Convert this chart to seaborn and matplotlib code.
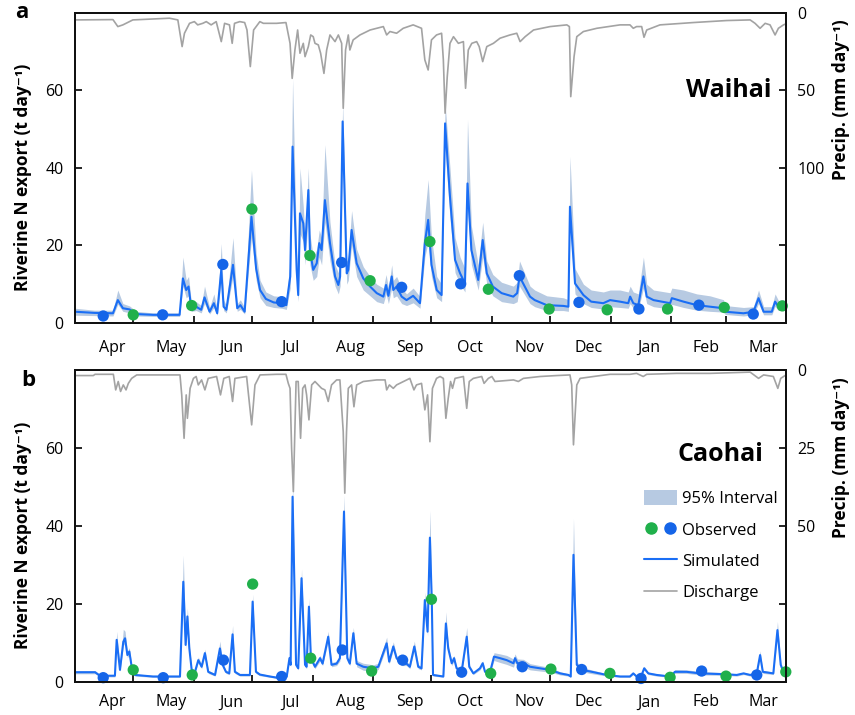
import matplotlib.pyplot as plt
import numpy as np
import seaborn as sns
from matplotlib.legend_handler import HandlerTuple
from matplotlib.lines import Line2D
from matplotlib.patches import Patch

# ---------------- panel a : Waihai ----------------
days_a = [0, 10, 19.5, 22, 24.6, 28, 31.5, 40, 53.7, 55.4, 57.1, 58.3, 59.7, 62.2, 64.8, 66.5,
          69.1, 71.3, 73, 75.1, 76.3, 77.7, 81.1, 83.3, 84.9, 87.1, 90.6, 93, 95, 98, 102, 106.1,
          108.5, 110.5, 111.7, 113.8, 114.6, 115.5, 117.2, 118.1, 119.8, 120.6, 122.3, 124.1, 125.4,
          126.6, 128.3, 130.9, 133.5, 135.2, 136.1, 137.4, 139.5, 140.3, 142, 144.6, 148, 151.5,
          154.9, 158.3, 159.7, 160.9, 162.6, 163.4, 165.1, 167.7, 170.2, 173.6, 177.1, 179.6, 181.3,
          183, 185.7, 188.2, 190, 192.5, 195.1, 197.7, 200.2, 201.5, 203.5, 207, 209.3, 211.4, 214.5,
          219, 225, 227, 228.2, 233.6, 236, 242.2, 250.7, 253.3, 254.1, 256.7, 261, 265, 271.2,
          274.7, 279.8, 284, 285, 286.6, 289.2, 291.8, 293.5, 297, 305.5, 306.4, 312.4, 319.2, 326,
          332.9, 333.8, 343.2, 348.3, 350.9, 353.5, 357.7, 359.4, 361.1, 363, 365]
sim_a = [2.9, 2.6, 2.5, 5.9, 3.8, 3.5, 2.3, 2.1, 2.1, 11.5, 8.5, 9.4, 3.8, 4.2, 3.4, 6.6,
         2.9, 5.1, 2.5, 13.7, 4.2, 3.4, 15.0, 3.8, 4.6, 2.9, 27.4, 14, 8.5, 6.2, 5.3, 5.1,
         4.6, 12, 45.5, 13.7, 7.2, 28.3, 25.7, 18.8, 34.3, 18.8, 13.7, 15.4, 20.6,
         18.8, 31.7, 20.6, 12.0, 9.8, 12.0, 52, 12.8, 13.7, 24, 15.4, 11.5, 9.4,
         7.7, 6.8, 9.8, 7.0, 12.0, 8.5, 9.4, 6.8, 5.9, 7.0, 5.1, 20.6, 26.6,
         15, 8.5, 7.2, 51.5, 32.6, 16.3, 12.8, 10.2, 36, 18.8, 11.1, 21.4, 12.8, 9.4,
         7.7, 6.8, 7.7, 12.0, 6.8, 5.9, 4.6, 4.4, 4.2, 30, 10.2, 7.2, 5.5, 5.1,
         5.9, 5.5, 5.1, 6.8, 5.1, 4.6, 12.0, 6.8, 5.9, 5.1, 6.4, 5.5, 4.6, 4.2,
         3.8, 2.9, 2.5, 2.9, 6.4, 2.9, 2.9, 5.5, 4.2, 4.6, 4.4]
lo_a = [2.0, 1.9, 1.8, 4.8, 3.0, 2.6, 1.8, 1.7, 1.7, 9.5, 6.5, 7.0, 3.0, 3.2, 2.6, 5.0,
        2.3, 4.0, 2.0, 11.0, 3.2, 2.6, 12.0, 3.0, 3.5, 2.3, 22, 11, 6.5, 4.5, 4.0, 3.8,
        3.5, 9, 38, 10, 5.5, 23, 21, 15, 28, 15, 11, 12, 17,
        15, 26, 16, 9.5, 7.5, 9.5, 45, 10, 11, 20, 12, 8.5, 7,
        5.5, 5, 7.5, 5, 9, 6.5, 7, 5, 4.5, 5.2, 3.8, 17, 21,
        12, 6.5, 5.5, 45, 27, 13, 10, 8, 30, 15, 8.5, 17, 10, 7,
        5.5, 5, 5.5, 9.5, 5, 4.2, 3.2, 3.2, 3, 25, 7.5, 5, 4, 3.6,
        4.2, 4, 3.8, 5, 3.8, 3.4, 9, 5, 4.2, 3.6, 4.8, 4, 3.3, 3.0,
        2.8, 2.2, 1.8, 2.1, 5, 2.1, 2.1, 4.3, 3.2, 3.5, 3.4]
hi_a = [3.8, 3.3, 3.3, 8.5, 5.0, 4.4, 3.0, 2.6, 2.6, 17, 11, 12, 5.5, 5.5, 4.5, 9.5,
        4.0, 7.5, 3.5, 20.5, 6.0, 4.5, 22, 5.0, 6.0, 4.0, 39.5, 18, 11, 8, 7, 6.8,
        6.0, 16, 63, 18, 10, 40, 30, 22, 40, 23, 17, 19, 24,
        22, 46, 26, 15, 13, 15, 57, 16, 17, 29, 19, 14.5, 12,
        10, 9, 12.5, 9, 15, 11, 12, 9, 7.5, 9, 6.8, 28, 37,
        22, 12, 10, 56.5, 40, 22, 17, 14, 52.5, 25, 15, 26, 16, 12.5,
        10.5, 9.5, 10.5, 16, 9.5, 8.5, 7, 6.5, 6, 43, 14, 10, 8.5, 8,
        8.5, 8.5, 8, 9.5, 8, 7.5, 17, 10, 8.5, 7.8, 9, 8.5, 7.5, 7,
        6, 4.5, 4, 4.2, 8.5, 4.2, 4.2, 7.5, 5.8, 6, 5.8]

rain_days_a = [0, 19.5, 22, 24.6, 29.7, 48.5, 52.8, 55, 56.2, 58.8, 61.3, 63, 65.6, 67.4, 69.9,
               72.5, 75.1, 76.8, 79.3, 80.7, 81.9, 84.6, 87.1, 88.3, 90, 91.7, 94.9, 96.7, 103.5,
               108.3, 110.4, 111.5, 112.9, 114.3, 115.5, 117.2, 118.1, 119.8, 121, 122.3, 123.2,
               124.9, 126.1, 127.8, 129.2, 130.9, 133.5, 135.2, 136.9, 137.7, 138.9, 140.3, 141.1,
               142.8, 146.3, 151.5, 158.3, 160, 161.7, 165.1, 168.5, 173.6, 177.9, 179.6, 181.3,
               183, 185.6, 188.2, 189.1, 190, 191.1, 192.5, 194.3, 196.8, 199.4, 200.5, 201.9,
               203.7, 206.2, 207.5, 209.3, 211.4, 214.8, 218.2, 223.3, 226.8, 228.5, 231.1, 235.4,
               243.9, 252.5, 253.8, 254.5, 256.2, 257.6, 261, 267.9, 279.8, 284.9, 286.6, 288.3,
               290.9, 292.1, 293.5, 300.3, 317.4, 334.5, 346.6, 349.1, 351.7, 354.3, 356.8, 359.4,
               361.1, 363.7, 365]
rain_a = [4.5, 4.3, 8.8, 7.7, 4.5, 3.4, 4.5, 21.7, 13.1, 6.7, 5.6, 7.7, 6.7, 5.6, 7.7,
          5.6, 18.5, 6.7, 7.7, 19.6, 6.7, 5.6, 6.2, 11, 34.6, 11, 5.6, 6.7, 6.7,
          6.2, 19.6, 42.2, 23.9, 11, 26, 19.6, 28.2, 21.7, 14.2, 15.3, 19.6,
          20.6, 26, 39, 23.9, 14.2, 18.5, 14.2, 19.6, 61.5, 23.9, 14.2, 23.9,
          17.4, 14.2, 11, 8.8, 14.2, 12.0, 13.1, 9.9, 7.7, 9.9, 30.3, 36.8,
          17.4, 14.2, 13.1, 30.3, 64.7, 41.1, 19.6, 15.3, 19.6, 18.5, 48.6, 23.9,
          19.6, 18.5, 21.7, 31.4, 21.7, 19.6, 16.3, 14.2, 13.1, 18.5, 15.3, 11,
          8.8, 7.7, 8.8, 54, 28.2, 15.3, 12, 9.9, 7.7, 7.7, 9.9, 8.8,
          8.8, 15.7, 11, 7.7, 6.2, 4.9, 4.5, 6.7, 9.9, 6.7, 7.7, 14.2,
          9.9, 7.7, 7]

obs_days_a = [14.5, 29.9, 45, 59.9, 75.9, 90.8, 106.1, 120.6, 136.9, 151.5, 167.7, 182.2,
              198, 212.2, 228.1, 243.4, 258.7, 273.2, 289.5, 304.2, 320.3, 333.3, 348.2, 363.1]
obs_a = [1.8, 2.1, 2.1, 4.5, 15.1, 29.4, 5.5, 17.4, 15.6, 10.9, 9.2, 21,
         10.1, 8.7, 12.2, 3.6, 5.3, 3.4, 3.6, 3.6, 4.6, 4.0, 2.3, 4.4]

# ---------------- panel b : Caohai ----------------
days_b = [0, 10.3, 12.8, 20.5, 21.4, 23.1, 24.8, 25.7, 26.9, 27.9, 29.1, 30.8, 40, 53.9, 55.6,
          56.8, 57.7, 58.7, 59.9, 61.6, 63.3, 65, 66.7, 68.4, 71.9, 74.4, 75.8, 77.5, 79.2, 80.9,
          82.1, 84.7, 89.8, 91.2, 92.9, 94.9, 100.1, 106.1, 108.7, 110.1, 110.7, 111.7, 113.5,
          114.6, 116.3, 118.1, 118.9, 120.1, 121.1, 123.2, 125.8, 127.1, 130, 131.7, 134.3, 136,
          138.1, 139.8, 141.1, 142.9, 144.6, 148, 153.1, 155.7, 160, 161.3, 163.4, 165.1, 167.7,
          170.2, 171.9, 174.2, 176.2, 177.9, 179.6, 181, 182.2, 183.2, 183.8, 189.1, 190.4, 191.6,
          193.4, 194.6, 195.9, 198.5, 201.1, 202.4, 204.5, 207.9, 209.3, 210.5, 213.1, 215.1,
          218.2, 221.6, 225.1, 225.9, 227.1, 230.2, 233.6, 238.8, 243.9, 249.1, 253.3, 254.5,
          255.9, 257.6, 260.1, 264.4, 273, 279.8, 284.9, 286.6, 288.3, 290.9, 292.2, 294.3, 298.6,
          305.5, 308, 314, 320.8, 332.9, 339.7, 343.2, 346.6, 350, 351.7, 353.1, 358.5, 360.6,
          362.3, 363.6, 365]
sim_b = [2.5, 2.5, 1.6, 1.6, 10.8, 3.1, 10.3, 11.2, 6.9, 7.8, 3.9, 1.8, 1.4, 1.4, 25.7,
         9.5, 16.8, 8.6, 3.1, 2.6, 5.6, 3.9, 7.4, 2.6, 1.8, 8.6, 4.4, 2.6, 2.2, 12.2,
         2.6, 1.8, 1.8, 20.6, 2.6, 1.9, 1.4, 0.9, 1.4, 6.1, 4.4, 47.5, 4.4,
         3.5, 26.6, 4.4, 3.9, 19.3, 6.1, 3.9, 6.1, 4.7, 11.6, 4.4, 4.7, 6.1,
         43.7, 6.1, 4.7, 12.5, 4.7, 3.9, 3.5, 3.9, 9.9, 5.2, 9.1, 6.1, 4.7,
         4.7, 3.9, 9.1, 3.9, 3.5, 21, 12.9, 37, 20, 1.8, 1.4, 15, 8.6,
         4.8, 6.1, 3.5, 2.7, 11.6, 3.9, 2.2, 3.5, 4.8, 2.6, 2.6, 6.5,
         6.1, 5.6, 4.8, 6.1, 4.8, 4.8, 3.9, 3.5, 3.1, 2.2, 1.8, 1.4,
         32.6, 4.4, 3.1, 2.7, 1.8, 1.4, 1.4, 2.2, 1.4, 1.8, 3.5, 2.2, 1.8,
         1.4, 2.6, 2.6, 2.2, 2.0, 1.8, 2.2, 1.8, 2.2, 6.9, 2.6, 2.2, 13.3,
         4.4, 2.6, 2.2]
lo_b = [2.1, 2.1, 1.3, 1.3, 9.8, 2.7, 9.3, 10, 6.2, 7, 3.4, 1.5, 1.2, 1.2, 24,
        8.5, 15, 7.6, 2.7, 2.2, 5, 3.4, 6.6, 2.2, 1.5, 7.6, 3.9, 2.2, 1.9, 11,
        2.2, 1.5, 1.5, 19, 2.2, 1.6, 1.2, 0.7, 1.2, 5.4, 3.9, 45, 3.9,
        3.1, 25, 3.9, 3.4, 18, 5.4, 3.4, 5.4, 4.2, 10.5, 3.9, 4.2, 5.4,
        41.5, 5.4, 4.2, 11.3, 3.9, 3.0, 2.7, 3.2, 9, 4.6, 8.2, 5.4, 4.2,
        4.2, 3.4, 8.2, 3.4, 3.1, 19.5, 11.8, 35, 18.5, 1.5, 1.2, 13.8, 7.7,
        4.2, 5.4, 3.1, 2.3, 10.5, 3.4, 1.9, 3.1, 4.2, 2.2, 2.2, 5.5,
        5.0, 4.5, 3.8, 5.0, 3.8, 3.9, 3.1, 2.8, 2.5, 1.8, 1.5, 1.2,
        30.5, 3.8, 2.6, 2.2, 1.5, 1.2, 1.2, 1.9, 1.2, 1.5, 3.1, 1.9, 1.5,
        1.2, 2.2, 2.2, 1.8, 1.7, 1.5, 1.9, 1.5, 1.9, 6.2, 2.2, 1.9, 12,
        3.9, 2.2, 1.9]
hi_b = [2.9, 2.9, 1.9, 1.9, 13, 3.6, 13.5, 13, 7.8, 8.8, 4.5, 2.1, 1.7, 1.7, 32.5,
        11, 19, 9.6, 3.6, 3.0, 6.4, 4.5, 8.4, 3.0, 2.1, 10.5, 5, 3.0, 2.6, 14.5,
        3, 2.1, 2.1, 22.5, 3, 2.2, 1.7, 1.2, 1.7, 6.8, 5, 52, 5,
        4, 29, 5, 4.5, 21.5, 6.8, 4.5, 6.8, 5.3, 13, 5, 5.3, 6.8,
        48, 6.8, 5.3, 14, 5.5, 4.8, 4.4, 4.8, 11.5, 5.9, 10.3, 6.8, 5.3,
        5.3, 4.5, 10.5, 4.5, 4, 23, 14, 44, 22, 2.1, 1.7, 18, 9.6,
        5.4, 6.8, 4, 3.1, 14, 4.5, 2.6, 4, 5.4, 3, 3, 7.5,
        7.2, 6.8, 5.9, 7.2, 5.9, 5.8, 4.7, 4.2, 3.7, 2.6, 2.1, 1.7,
        42, 5.2, 3.7, 3.2, 2.1, 1.7, 1.7, 2.5, 1.7, 2.1, 4, 2.5, 2.1,
        1.7, 3.2, 3.1, 2.7, 2.4, 2.1, 2.5, 2.1, 2.5, 8, 3, 2.5, 15.5,
        5, 3, 2.5]

rain_days_b = [0, 9.4, 10.3, 19.7, 20.9, 22.2, 23.4, 24.8, 26.2, 27.4, 29.1, 31.7, 53.9, 54.8,
               56, 57.1, 57.7, 59.1, 60.8, 62.2, 63.3, 65, 66.7, 68.4, 72.7, 74.7, 76.4, 79.2,
               80.9, 82.1, 88.1, 90.7, 92.4, 95, 103.5, 108.3, 109.5, 110.4, 111.2, 112.1, 113.5,
               114.6, 115.8, 116.9, 118.1, 118.9, 120.1, 121.5, 123.2, 124.9, 126.6, 128.3, 130,
               131.7, 134.3, 136, 137.7, 138.5, 139.4, 140.3, 142, 143.2, 144.6, 148, 154.9,
               159.2, 160, 161.4, 163.4, 165.1, 171.9, 174, 175.3, 177.9, 179.6, 181, 182.2,
               183.5, 185.6, 187.4, 189.1, 190.4, 191.6, 192.8, 193.8, 195.1, 199.4, 201.1, 202.4,
               204.5, 208.8, 210, 212.2, 214, 215.6, 225.1, 227.6, 230.2, 238.8, 247.3, 254.1,
               255, 255.9, 257.6, 259.3, 266.2, 274.7, 284.9, 288.3, 291.7, 293.5, 308.9, 326,
               346.6, 350.9, 353.5, 358.5, 360.8, 362.3, 365]
rain_b = [1.8, 1.8, 1.4, 1.4, 6.4, 3.7, 6.9, 4.8, 6.4, 4.3, 2.7, 1.6, 1.6, 8,
          21.9, 8, 15.5, 5.9, 2.7, 2.1, 4.8, 3.2, 6.4, 2.7, 2.1, 8, 2.7, 2.1,
          10.1, 2.7, 2.1, 17.6, 4.8, 1.6, 1.4, 1.4, 4.3, 5.9, 25.1, 39, 3.7,
          3.7, 21.9, 5.9, 4.8, 8, 16, 4.8, 3.7, 4.8, 5.9, 6.4, 10.1,
          4.8, 3.2, 3.2, 19.8, 39.5, 19.8, 5.9, 4.8, 11.8, 4.8, 3.7, 3.2,
          3.2, 6.4, 4.8, 5.9, 4.8, 2.7, 6.4, 4.8, 4.3, 12.8, 8, 23,
          5.9, 2.7, 2.1, 2.7, 15.5, 9.1, 3.7, 5.9, 2.7, 2.1, 12.3, 3.7,
          2.7, 2.1, 4.3, 2.7, 2.1, 3.7, 3.2, 3.7, 2.7, 2.1, 1.8, 1.6,
          4.8, 24, 4.8, 2.7, 2.1, 1.4, 1.4, 1.1, 2.1, 1.4, 1.1, 1.1,
          0.7, 2.7, 1.6, 2.1, 5.9, 2.7, 1.6]

obs_days_b = [14.5, 29.9, 45.3, 60.2, 76.2, 91.2, 106.1, 121, 137.2, 152.3, 168.2, 183,
              198.5, 213.4, 229.6, 244.3, 260.1, 274.6, 290.6, 305.5, 321.7, 334.2, 350, 364.9]
obs_b = [1.1, 3.1, 1.1, 1.8, 5.6, 25.1, 1.4, 6.1, 8.2, 2.8, 5.6, 21.2,
         2.5, 2.2, 3.9, 3.3, 3.2, 2.2, 0.9, 1.2, 2.8, 1.5, 1.8, 2.6]

# observed samples alternate blue / green through the year
obs_kind = ['b', 'g'] * 12

months = ['Apr', 'May', 'Jun', 'Jul', 'Aug', 'Sep', 'Oct', 'Nov', 'Dec', 'Jan', 'Feb', 'Mar']
month_len = [30, 31, 30, 31, 31, 30, 31, 30, 31, 31, 28, 31]

BLUE = '#1a6ef5'
DOT_BLUE = '#1565e8'
GREEN = '#20b04b'
BAND = '#b7cae2'
GREY = '#a3a3a3'

sns.set_style('ticks')
plt.rcParams['font.family'] = ['Open Sans', 'DejaVu Sans']
plt.rcParams['axes.linewidth'] = 1.4
for key in ['text.color', 'axes.labelcolor', 'xtick.color', 'ytick.color']:
    plt.rcParams[key] = 'black'

fig = plt.figure(figsize=(8.55, 7.15), dpi=100)
ax_a = fig.add_axes([0.0877, 0.5483, 0.8316, 0.4336])
ax_b = fig.add_axes([0.0877, 0.0462, 0.8316, 0.4364])

bounds = np.cumsum(month_len)
label_pos = bounds - np.array(month_len) / 2 + 4


def draw_panel(ax, days, sim, lo, hi, rain_days, rain, obs_days, obs, rain_max, rain_ticks, rain_labels,
               month_pad):
    ax.fill_between(days, lo, hi, color=BAND, lw=0, zorder=1)
    sns.lineplot(x=days, y=sim, ax=ax, color=BLUE, lw=1.5, estimator=None, sort=False, zorder=2)
    sns.scatterplot(x=obs_days, y=obs, hue=obs_kind, palette={'b': DOT_BLUE, 'g': GREEN},
                    s=66, edgecolor='none', legend=False, ax=ax, zorder=4, clip_on=False)
    ax.set_xlim(0, 365)
    ax.set_ylim(0, 80)
    ax.set_yticks([0, 20, 40, 60])
    ax.set_xticks(bounds[:-1])
    ax.set_xticklabels([])
    ax.set_xticks(label_pos, minor=True)
    ax.set_xticklabels(months, minor=True, fontsize=11.5)
    ax.tick_params(axis='x', which='minor', length=0, pad=month_pad)
    ax.tick_params(axis='x', which='major', direction='in', length=5, width=1.2)
    ax.tick_params(axis='y', direction='in', length=5, width=1.2, labelsize=11.5, pad=8)
    ax.set_ylabel('Riverine N export (t day⁻¹)', fontsize=12.5, fontweight='bold')
    ax.yaxis.set_label_coords(-0.06, 0.47)

    ax2 = ax.twinx()
    sns.lineplot(x=rain_days, y=rain, ax=ax2, color=GREY, lw=1.2, estimator=None, sort=False)
    ax2.set_ylim(rain_max, 0)
    ax2.set_xlim(0, 365)
    ax2.set_yticks(rain_ticks)
    ax2.set_yticklabels(rain_labels)
    ax2.tick_params(axis='y', direction='in', length=5, width=1.2, labelsize=11.5, pad=8)
    ax2.set_ylabel('Precip. (mm day⁻¹)', fontsize=12.5, fontweight='bold')
    ax2.yaxis.set_label_coords(1.065, 0.72)
    for side in ['left', 'right', 'top', 'bottom']:
        ax.spines[side].set_color('#111111')
        ax2.spines[side].set_color('#111111')
    return ax2


draw_panel(ax_a, days_a, sim_a, lo_a, hi_a, rain_days_a, rain_a, obs_days_a, obs_a,
           200, [0, 50, 100, 150], ['0', '50', '100', ''], 12)
draw_panel(ax_b, days_b, sim_b, lo_b, hi_b, rain_days_b, rain_b, obs_days_b, obs_b,
           100, [0, 25, 50, 75], ['0', '25', '50', ''], 9)

ax_a.text(0.98, 0.75, 'Waihai', transform=ax_a.transAxes, ha='right', va='center',
          fontsize=18, fontweight='bold')
ax_b.text(0.968, 0.728, 'Caohai', transform=ax_b.transAxes, ha='right', va='center',
          fontsize=18, fontweight='bold')
fig.text(0.026, 0.983, 'a', fontsize=16, fontweight='bold', ha='center', va='center')
fig.text(0.033, 0.468, 'b', fontsize=16, fontweight='bold', ha='center', va='center')

handles = [Patch(facecolor=BAND, edgecolor='none'),
           (Line2D([], [], ls='', marker='o', color=GREEN, markersize=8),
            Line2D([], [], ls='', marker='o', color=DOT_BLUE, markersize=8)),
           Line2D([], [], color=BLUE, lw=1.5),
           Line2D([], [], color=GREY, lw=1.2)]
ax_b.legend(handles, ['95% Interval', 'Observed', 'Simulated', 'Discharge'],
            handler_map={tuple: HandlerTuple(ndivide=None, pad=0.3)},
            loc='upper left', bbox_to_anchor=(0.8, 0.615), frameon=False, fontsize=12,
            handlelength=2.0, handleheight=1.0, handletextpad=0.3, labelspacing=0.85,
            borderpad=0, borderaxespad=0)

fig.savefig('out.png', dpi=100)
